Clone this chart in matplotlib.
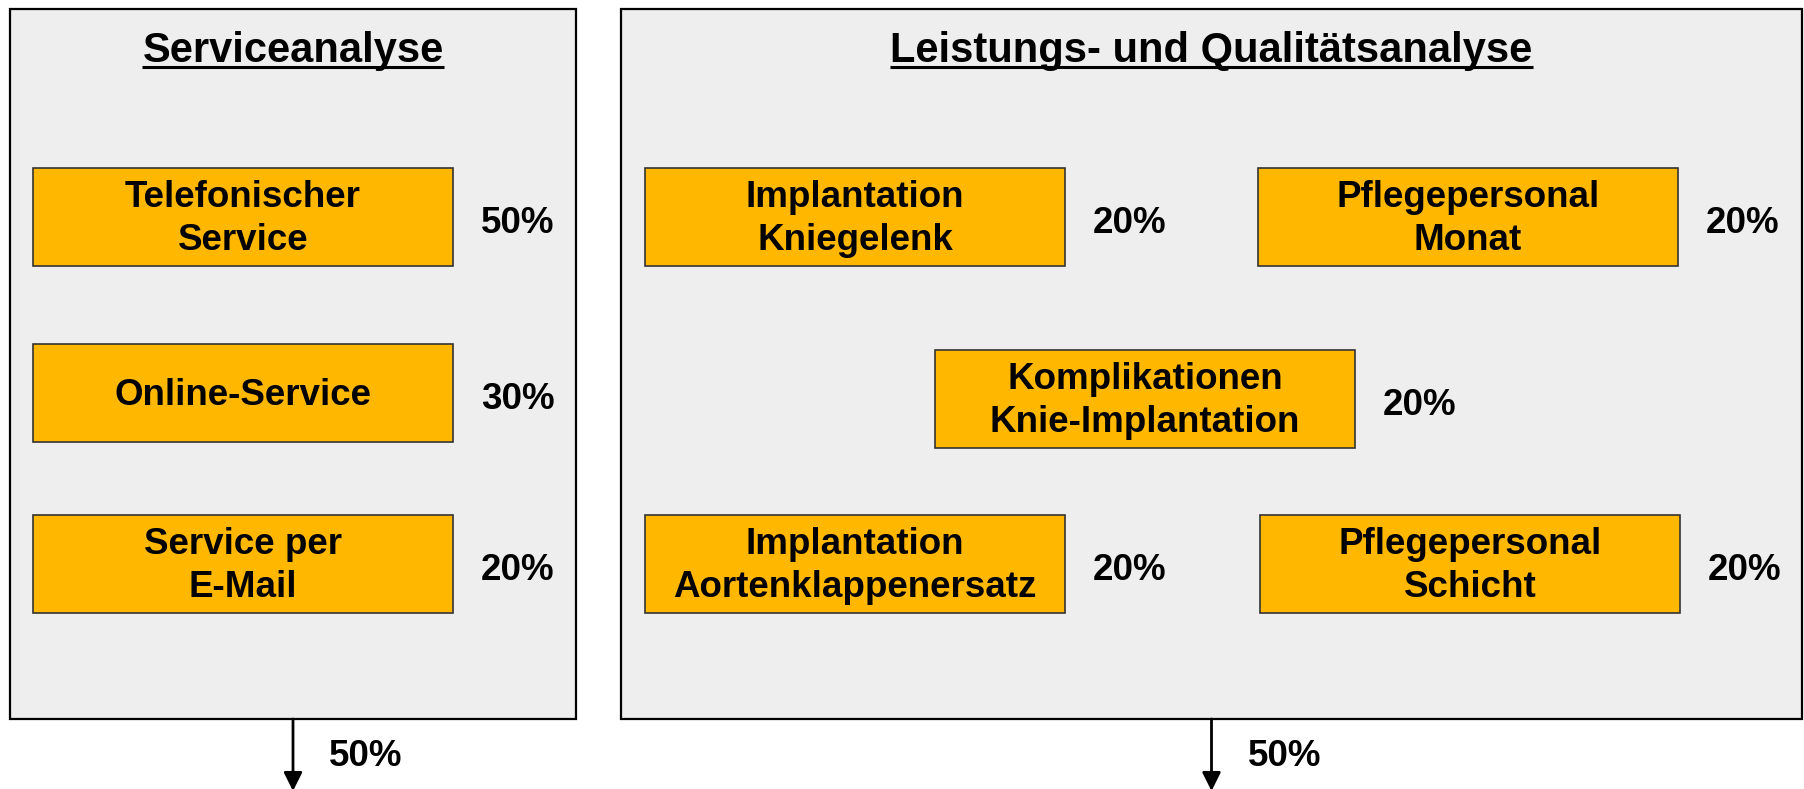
import matplotlib.pyplot as plt
from matplotlib.patches import Rectangle

# data
panel_titles = ['Serviceanalyse', 'Leistungs- und Qualitätsanalyse']
panel_weights = [50, 50]
service_labels = ['Telefonischer\nService', 'Online-Service', 'Service per\nE-Mail']
service_shares = [50, 30, 20]
quality_labels = ['Implantation\nKniegelenk', 'Pflegepersonal\nMonat',
                  'Komplikationen\nKnie-Implantation',
                  'Implantation\nAortenklappenersatz', 'Pflegepersonal\nSchicht']
quality_shares = [20, 20, 20, 20, 20]

# layout (pixel space of the figure)
W, H = 1804, 789
panels = [(10, 9, 566, 710), (621, 9, 1181, 710)]
box_w, box_h = 420, 98
service_pos = [(33, 168), (33, 344), (33, 515)]
quality_pos = [(645, 168), (1258, 168), (935, 350), (645, 515), (1260, 515)]

orange = '#FFB700'
panel_bg = '#EEEEEE'
font = 'Liberation Sans'

fig = plt.figure(figsize=(W / 100, H / 100), dpi=100)
ax = fig.add_axes([0, 0, 1, 1])
ax.set_xlim(0, W)
ax.set_ylim(H, 0)
ax.axis('off')

titles = []
for (px, py, pw, ph), title in zip(panels, panel_titles):
    ax.add_patch(Rectangle((px, py), pw, ph, facecolor=panel_bg,
                           edgecolor='black', lw=1.6))
    t = ax.text(px + pw / 2, 62, title, ha='center', va='baseline',
                fontsize=30, fontweight='bold', family=font)
    titles.append(t)


def draw_boxes(labels, shares, positions):
    for lab, share, (bx, by) in zip(labels, shares, positions):
        ax.add_patch(Rectangle((bx, by), box_w, box_h, facecolor=orange,
                               edgecolor='#333333', lw=1.2))
        ax.text(bx + box_w / 2, by + box_h / 2 + 2, lab, ha='center', va='center',
                fontsize=26.5, fontweight='bold', family=font, linespacing=1.3)
        ax.text(bx + box_w + 28, by + box_h / 2 + 6, f'{share}%', ha='left',
                va='center', fontsize=26.5, fontweight='bold', family=font)


draw_boxes(service_labels, service_shares, service_pos)
draw_boxes(quality_labels, quality_shares, quality_pos)

# arrows with weights below the panels
for (px, py, pw, ph), w in zip(panels, panel_weights):
    cx = px + pw / 2
    ax.annotate('', xy=(cx, H + 2), xytext=(cx, py + ph), annotation_clip=False,
                arrowprops=dict(arrowstyle='-|>', color='black', lw=2,
                                mutation_scale=28, shrinkA=0, shrinkB=0))
    ax.text(cx + 36, 756, f'{w}%', ha='left', va='center',
            fontsize=26.5, fontweight='bold', family=font)

# underline the titles
fig.canvas.draw()
r = fig.canvas.get_renderer()
inv = ax.transData.inverted()
for t in titles:
    bb = t.get_window_extent(r)
    (x0, _), (x1, _) = inv.transform([(bb.x0, 0), (bb.x1, 0)])
    ax.plot([x0, x1], [67, 67], color='black', lw=2.2, solid_capstyle='butt')

fig.savefig('out.png', dpi=100)
